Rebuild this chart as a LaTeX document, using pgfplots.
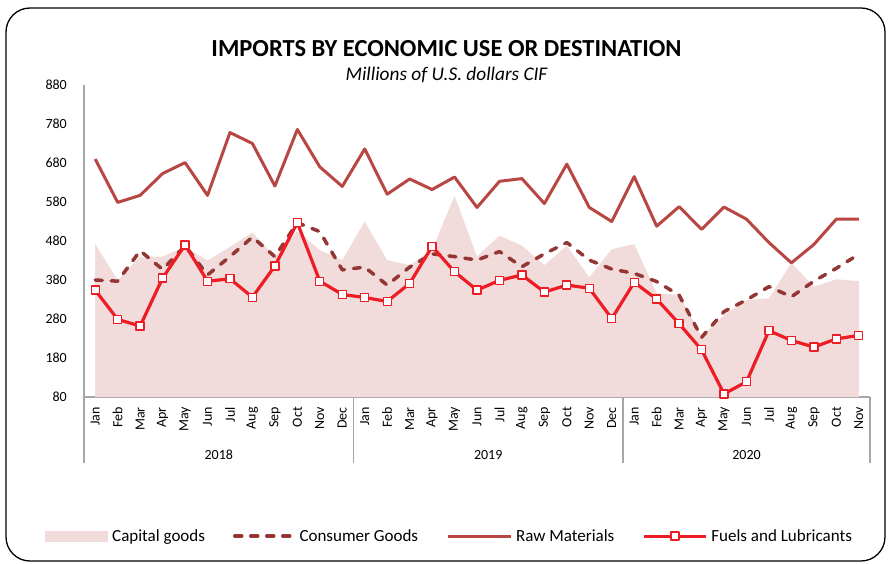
\documentclass[border=0pt]{standalone}
\usepackage{fontspec}
\setmainfont{Carlito}
\usepackage{pgfplots}
\usepackage{pgfplotstable}
\pgfplotsset{compat=1.18}

\definecolor{rawcol}{HTML}{B84744}
\definecolor{concol}{HTML}{943634}
\definecolor{fuelcol}{HTML}{EE1C25}
\definecolor{capcol}{HTML}{F2DCDB}
\definecolor{axcol}{HTML}{A6A6A6}

% monthly values, Jan 2018 .. Nov 2020
\pgfplotstableread{
i  cap con raw fuel
0  472 380 690 354
1  380 377 579 279
2  440 455 597 262
3  440 407 653 385
4  465 468 681 470
5  430 393 597 377
6  465 440 758 383
7  502 490 730 336
8  440 440 621 416
9  505 527 766 527
10 457 504 670 377
11 431 406 620 343
12 530 413 716 335
13 431 367 600 325
14 418 413 639 371
15 457 447 612 466
16 596 440 644 401
17 440 431 566 354
18 494 453 633 379
19 468 414 640 393
20 418 447 576 349
21 468 476 677 367
22 387 431 566 359
23 459 408 530 281
24 472 397 645 374
25 346 376 518 331
26 342 341 568 268
27 235 233 510 201
28 290 299 567 88
29 329 329 536 119
30 333 363 476 250
31 424 337 424 225
32 363 377 471 208
33 382 410 536 229
34 377 446 536 238
}\imports

\begin{document}
\begin{tikzpicture}[x=1pt,y=1pt]
\useasboundingbox (0,0) rectangle (888,563);
\draw[line width=1.3pt, rounded corners=24pt] (6,2) rectangle (885,555);
\node[font=\bfseries\fontsize{24.5}{28}\selectfont, anchor=base] at (446.5,506.5) {IMPORTS BY ECONOMIC USE OR DESTINATION};
\node[font=\itshape\fontsize{19.3}{23}\selectfont, anchor=base] at (446.5,482) {Millions of U.S. dollars CIF};

\begin{axis}[
    at={(84pt,166pt)}, anchor=south west,
    scale only axis,
    width=786pt, height=312pt,
    xmin=-0.5, xmax=34.5,
    ymin=80, ymax=880,
    axis x line*=bottom, axis y line*=left,
    axis line style={axcol, line width=1.2pt},
    major tick length=0pt,
    xtick={0,...,34},
    xticklabels={Jan,Feb,Mar,Apr,May,Jun,Jul,Aug,Sep,Oct,Nov,Dec,
                 Jan,Feb,Mar,Apr,May,Jun,Jul,Aug,Sep,Oct,Nov,Dec,
                 Jan,Feb,Mar,Apr,May,Jun,Jul,Aug,Sep,Oct,Nov},
    xticklabel style={rotate=90, anchor=east, inner sep=0pt, font=\fontsize{14}{16}\selectfont},
    xticklabel shift=10pt,
    ytick={80,180,...,880},
    yticklabel style={anchor=east, inner sep=0pt, font=\fontsize{14}{16}\selectfont},
    yticklabel shift=17pt,
    /pgf/number format/assume math mode=true,
    clip mode=individual,
    legend columns=4,
    legend cell align=left,
    legend style={draw=none, fill=none, inner sep=0pt,
        at={(-0.0496,-0.4455)}, anchor=west,
        font=\fontsize{17}{20}\selectfont,
        /tikz/every even column/.append style={column sep=26pt},
        /tikz/every odd column/.append style={column sep=2pt}},
]
\addplot[fill=capcol, draw=none,
    legend image code/.code={\fill[capcol] (0pt,-5.5pt) rectangle (63pt,5.5pt);}]
    table[x=i, y=cap] {\imports} \closedcycle;
\addlegendentry{Capital goods}

\addplot[concol, line width=3.5pt, line cap=round, line join=round, dash pattern=on 7pt off 9pt,
    legend image code/.code={\draw[concol, line width=3.5pt, line cap=round, dash pattern=on 7pt off 9pt] (2pt,0pt) -- (61pt,0pt);}]
    table[x=i, y=con] {\imports};
\addlegendentry{Consumer Goods}

\addplot[rawcol, line width=3pt, line join=round,
    legend image code/.code={\draw[rawcol, line width=3pt] (0pt,0pt) -- (63pt,0pt);}]
    table[x=i, y=raw] {\imports};
\addlegendentry{Raw Materials}

\addplot[fuelcol, line width=3.2pt, line join=round, mark=square*, mark size=4pt,
    mark options={fill=white, draw=fuelcol, line width=1.3pt, solid},
    legend image code/.code={\draw[fuelcol, line width=3pt] (0pt,0pt) -- (62pt,0pt);
        \draw[fuelcol, fill=white, line width=1.3pt] (27pt,-4pt) rectangle (35pt,4pt);}]
    table[x=i, y=fuel] {\imports};
\addlegendentry{Fuels and Lubricants}

\draw[axcol, line width=1.2pt] (axis cs:-0.5,80) -- ([yshift=-66pt]axis cs:-0.5,80);
\draw[axcol, line width=1.2pt] (axis cs:11.5,80) -- ([yshift=-66pt]axis cs:11.5,80);
\draw[axcol, line width=1.2pt] (axis cs:23.5,80) -- ([yshift=-66pt]axis cs:23.5,80);
\draw[axcol, line width=1.2pt] (axis cs:34.5,80) -- ([yshift=-66pt]axis cs:34.5,80);
\node[font=\fontsize{14}{16}\selectfont] at ([yshift=-58pt]axis cs:5.5,80) {2018};
\node[font=\fontsize{14}{16}\selectfont] at ([yshift=-58pt]axis cs:17.5,80) {2019};
\node[font=\fontsize{14}{16}\selectfont] at ([yshift=-58pt]axis cs:29,80) {2020};
\end{axis}
\end{tikzpicture}
\end{document}
